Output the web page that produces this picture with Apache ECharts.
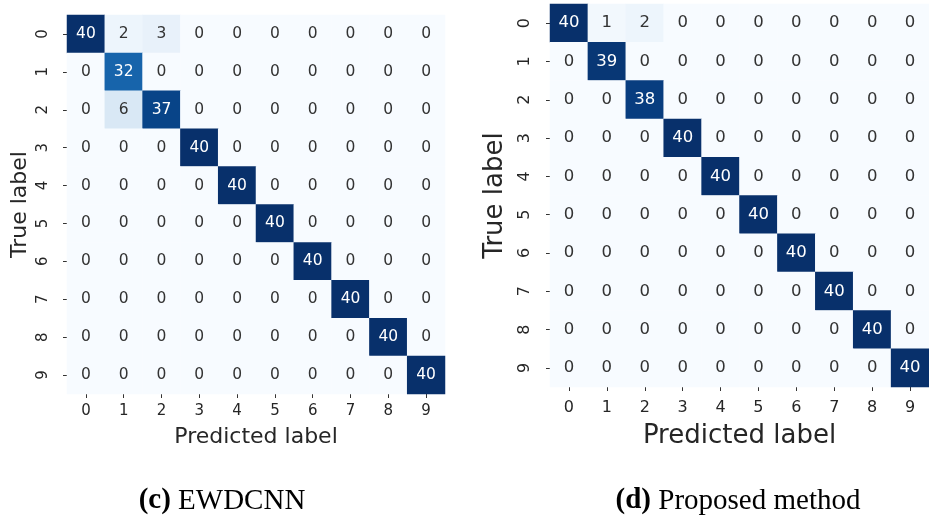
<!DOCTYPE html>
<html>
<head>
<meta charset="utf-8">
<script src="https://cdn.jsdelivr.net/npm/echarts@6/dist/echarts.min.js"></script>
<style>html,body{margin:0;padding:0;background:#fff;}#c{width:929px;height:520px;}</style>
</head>
<body>
<div id="c"></div>
<script>
const classLabels = ['0','1','2','3','4','5','6','7','8','9'];
// rows = true label, cols = predicted label
const matrixEWDCNN = [
  [40,2,3,0,0,0,0,0,0,0],
  [0,32,0,0,0,0,0,0,0,0],
  [0,6,37,0,0,0,0,0,0,0],
  [0,0,0,40,0,0,0,0,0,0],
  [0,0,0,0,40,0,0,0,0,0],
  [0,0,0,0,0,40,0,0,0,0],
  [0,0,0,0,0,0,40,0,0,0],
  [0,0,0,0,0,0,0,40,0,0],
  [0,0,0,0,0,0,0,0,40,0],
  [0,0,0,0,0,0,0,0,0,40]
];
const matrixProposed = [
  [40,1,2,0,0,0,0,0,0,0],
  [0,39,0,0,0,0,0,0,0,0],
  [0,0,38,0,0,0,0,0,0,0],
  [0,0,0,40,0,0,0,0,0,0],
  [0,0,0,0,40,0,0,0,0,0],
  [0,0,0,0,0,40,0,0,0,0],
  [0,0,0,0,0,0,40,0,0,0],
  [0,0,0,0,0,0,0,40,0,0],
  [0,0,0,0,0,0,0,0,40,0],
  [0,0,0,0,0,0,0,0,0,40]
];
const captionLeft = ['(c)', 'EWDCNN'];
const captionRight = ['(d)', 'Proposed method'];
const xTitle = 'Predicted label';
const yTitle = 'True label';

const blues = ['#f7fbff','#deebf7','#c6dbef','#9ecae1','#6baed6','#4292c6','#2171b5','#08519c','#08306b'];
const FONT = 'DejaVu Sans';

function toData(m){
  const out = [];
  m.forEach((row, r) => row.forEach((v, c) => {
    out.push({value:[c, r, v], label:{color: v > 20 ? '#ffffff' : '#333333'}});
  }));
  return out;
}

function axes(gi, tickFont, titleFont, xGap, yGap, xMargin, yMargin){
  return {
    x: {
      type:'category', gridIndex:gi, data:classLabels, position:'bottom',
      axisLine:{show:false}, splitLine:{show:false}, splitArea:{show:false},
      axisTick:{show:true, alignWithLabel:true, length:4, lineStyle:{color:'#333', width:1}},
      axisLabel:{fontFamily:FONT, fontSize:tickFont, color:'#262626', margin:xMargin},
      name:xTitle, nameLocation:'middle', nameGap:xGap,
      nameTextStyle:{fontFamily:FONT, fontSize:titleFont, color:'#262626'}
    },
    y: {
      type:'category', gridIndex:gi, data:classLabels, inverse:true,
      axisLine:{show:false}, splitLine:{show:false}, splitArea:{show:false},
      axisTick:{show:true, alignWithLabel:true, length:4, lineStyle:{color:'#333', width:1}},
      axisLabel:{fontFamily:FONT, fontSize:tickFont, color:'#262626', rotate:90, margin:yMargin},
      name:yTitle, nameLocation:'middle', nameGap:yGap, nameRotate:90,
      nameTextStyle:{fontFamily:FONT, fontSize:titleFont, color:'#262626'}
    }
  };
}

const a1 = axes(0, 15, 22, 32, 36, 10, 16);
const a2 = axes(1, 16, 26, 36, 42, 13, 17);

function caption(x, parts){
  return {
    type:'text', x:x, y:501,
    style:{
      text:'{b|' + parts[0] + '} ' + parts[1],
      fontFamily:'Liberation Serif', fontSize:29, fill:'#000',
      align:'center', verticalAlign:'middle',
      rich:{b:{fontFamily:'Liberation Serif', fontSize:29, fontWeight:'bold', fill:'#000'}}
    }
  };
}

const chart = echarts.init(document.getElementById('c'), null, {renderer:'canvas'});
chart.setOption({
  backgroundColor:'#ffffff',
  animation:false,
  grid:[
    {left:67, top:15, width:378, height:379},
    {left:550, top:4, width:387, height:383}
  ],
  xAxis:[a1.x, a2.x],
  yAxis:[a1.y, a2.y],
  visualMap:{
    show:false, min:0, max:40, calculable:false, seriesIndex:[0,1],
    inRange:{color:blues}
  },
  series:[
    {type:'heatmap', xAxisIndex:0, yAxisIndex:0, data:toData(matrixEWDCNN),
     label:{show:true, fontFamily:FONT, fontSize:15.5}, itemStyle:{borderWidth:0}},
    {type:'heatmap', xAxisIndex:1, yAxisIndex:1, data:toData(matrixProposed),
     label:{show:true, fontFamily:FONT, fontSize:16.5}, itemStyle:{borderWidth:0}}
  ],
  graphic:[caption(222, captionLeft), caption(738, captionRight)]
});
</script>
</body>
</html>
